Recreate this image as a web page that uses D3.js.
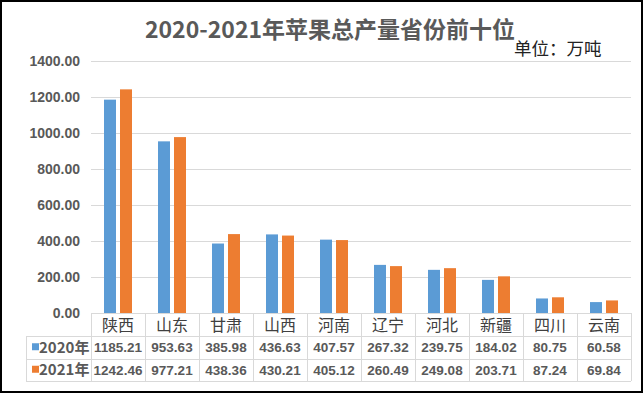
<!DOCTYPE html>
<html>
<head>
<meta charset="utf-8">
<script src="https://cdn.jsdelivr.net/npm/d3@7"></script>
<style>
  body { margin: 0; background: #fff; }
  svg { display: block; }
</style>
</head>
<body>
<div id="chart"></div>
<script>
var provinces = ["陕西", "山东", "甘肃", "山西", "河南", "辽宁", "河北", "新疆", "四川", "云南"];
var seriesNames = ["2020年", "2021年"];
var values2020 = [1185.21, 953.63, 385.98, 436.63, 407.57, 267.32, 239.75, 184.02, 80.75, 60.58];
var values2021 = [1242.46, 977.21, 438.36, 430.21, 405.12, 260.49, 249.08, 203.71, 87.24, 69.84];
var yTicks = [0, 200, 400, 600, 800, 1000, 1200, 1400];

var seriesColors = d3.scaleOrdinal()
    .domain(seriesNames)
    .range(["#5B9BD5", "#ED7D31"]);

var width = 644, height = 395;
var plot = { left: 91, right: 631, top: 61, bottom: 313 };
var rowH = [23, 22.5, 22.5];

var svg = d3.select("#chart").append("svg")
    .attr("width", width)
    .attr("height", height);

svg.append("rect")
    .attr("x", 1).attr("y", 1)
    .attr("width", 641).attr("height", 391)
    .attr("fill", "#fff")
    .attr("stroke", "#000")
    .attr("stroke-width", 2);

// title + unit
svg.append("text")
    .attr("x", 330).attr("y", 38)
    .attr("text-anchor", "middle")
    .style("font-family", "'Noto Sans CJK SC', 'Liberation Sans', sans-serif")
    .style("font-size", "23px")
    .style("font-weight", "bold")
    .style("fill", "#595959")
    .text("2020-2021年苹果总产量省份前十位");

svg.append("text")
    .attr("x", 514).attr("y", 55)
    .style("font-family", "'Noto Sans CJK SC', sans-serif")
    .style("font-size", "17.5px")
    .style("fill", "#222")
    .text("单位：万吨");

var x0 = d3.scaleBand()
    .domain(provinces)
    .range([plot.left, plot.right]);

var x1 = d3.scaleBand()
    .domain(seriesNames)
    .range([0, x0.bandwidth()])
    .paddingInner(0.25)
    .paddingOuter(0.8125);

var y = d3.scaleLinear()
    .domain([0, 1400])
    .range([plot.bottom, plot.top]);

// gridlines
svg.append("g")
    .selectAll("line")
    .data(yTicks)
    .enter().append("line")
    .attr("x1", plot.left).attr("x2", plot.right)
    .attr("y1", d => Math.round(y(d)) + 0.5)
    .attr("y2", d => Math.round(y(d)) + 0.5)
    .attr("stroke", "#D9D9D9")
    .attr("stroke-width", 1);

// y axis labels
var yAxis = d3.axisLeft(y).tickValues(yTicks).tickSize(0).tickPadding(11)
    .tickFormat(d3.format(".2f"));
var yG = svg.append("g")
    .attr("transform", "translate(" + plot.left + ",0)")
    .call(yAxis);
yG.select(".domain").remove();
yG.selectAll("text")
    .attr("dy", "0.35em")
    .style("font-family", "'Liberation Sans', Arial, sans-serif")
    .style("font-size", "14px")
    .style("font-weight", "bold")
    .style("fill", "#595959");

// bars
var data = provinces.map(function (p, i) {
    return { label: p, values: [values2020[i], values2021[i]] };
});

var groups = svg.append("g").selectAll("g")
    .data(data)
    .enter().append("g")
    .attr("transform", d => "translate(" + x0(d.label) + ",0)");

groups.selectAll("rect")
    .data(d => seriesNames.map((s, k) => ({ series: s, value: d.values[k] })))
    .enter().append("rect")
    .attr("x", d => x1(d.series))
    .attr("width", x1.bandwidth())
    .attr("y", d => y(d.value))
    .attr("height", d => y(0) - y(d.value))
    .attr("fill", d => seriesColors(d.series));

// data table
var tableTop = plot.bottom;
var rowY = [tableTop, tableTop + rowH[0], tableTop + rowH[0] + rowH[1], tableTop + rowH[0] + rowH[1] + rowH[2]];
var tableLeft = 26;
var lineColor = "#D9D9D9";
var table = svg.append("g");

table.append("line")
    .attr("x1", plot.left).attr("x2", plot.right)
    .attr("y1", rowY[0] + 0.5).attr("y2", rowY[0] + 0.5)
    .attr("stroke", lineColor);
[1, 2, 3].forEach(function (r) {
    table.append("line")
        .attr("x1", tableLeft).attr("x2", plot.right)
        .attr("y1", Math.round(rowY[r]) + 0.5).attr("y2", Math.round(rowY[r]) + 0.5)
        .attr("stroke", lineColor);
});
var colEdges = provinces.map(p => x0(p)).concat([plot.right]);
table.selectAll(".vline")
    .data(colEdges)
    .enter().append("line")
    .attr("class", "vline")
    .attr("x1", d => Math.round(d) + 0.5).attr("x2", d => Math.round(d) + 0.5)
    .attr("y1", rowY[0]).attr("y2", rowY[3])
    .attr("stroke", lineColor);
table.append("line")
    .attr("x1", tableLeft + 0.5).attr("x2", tableLeft + 0.5)
    .attr("y1", rowY[1]).attr("y2", rowY[3])
    .attr("stroke", lineColor);

// header: province names
table.selectAll(".cat")
    .data(provinces)
    .enter().append("text")
    .attr("class", "cat")
    .attr("x", d => x0(d) + x0.bandwidth() / 2)
    .attr("y", rowY[0] + rowH[0] / 2 + 6)
    .attr("text-anchor", "middle")
    .style("font-family", "'Noto Sans CJK SC', sans-serif")
    .style("font-size", "16px")
    .style("fill", "#404040")
    .text(d => d);

// value rows
[values2020, values2021].forEach(function (vals, r) {
    var cy = (rowY[r + 1] + rowY[r + 2]) / 2;
    table.append("rect")
        .attr("x", 32).attr("y", cy - 4)
        .attr("width", 7).attr("height", 7)
        .attr("fill", seriesColors(seriesNames[r]));
    table.append("text")
        .attr("x", 39).attr("y", cy + 5.5)
        .style("font-family", "'Noto Sans CJK SC', sans-serif")
        .style("font-size", "15px")
        .style("font-weight", "bold")
        .style("fill", "#595959")
        .text(seriesNames[r]);
    table.selectAll(".v" + r)
        .data(vals)
        .enter().append("text")
        .attr("class", "v" + r)
        .attr("x", (d, i) => x0(provinces[i]) + x0.bandwidth() / 2)
        .attr("y", cy + 5)
        .attr("text-anchor", "middle")
        .style("font-family", "'Liberation Sans', Arial, sans-serif")
        .style("font-size", "13.5px")
        .style("font-weight", "bold")
        .style("fill", "#595959")
        .text(d => d3.format(".2f")(d));
});
</script>
</body>
</html>
